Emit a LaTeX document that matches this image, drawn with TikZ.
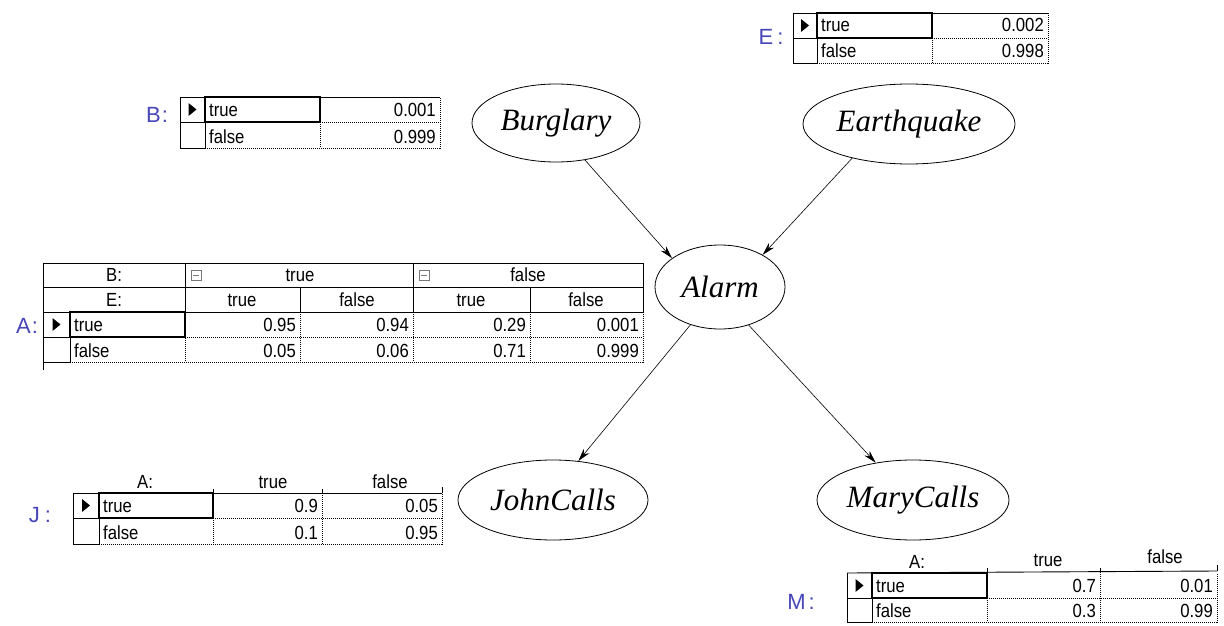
\documentclass[tikz,border=0pt]{standalone}
\usepackage{fontspec}
\setmainfont{Liberation Sans}
\newfontfamily\tabf[FakeStretch=0.88]{Liberation Sans}
\newfontfamily\elf{Liberation Serif}
\usetikzlibrary{shapes.geometric,arrows.meta}
\definecolor{pen}{RGB}{70,70,185}
\definecolor{minusgray}{RGB}{120,120,120}
\tikzset{
  var/.style={ellipse, draw, line width=0.8pt, minimum width=#1, minimum height=78pt, inner sep=0pt,
              font=\elf\itshape\fontsize{31}{36}\selectfont},
  edge/.style={-{Stealth[length=13pt,width=7pt]}, line width=0.6pt},
  tsolid/.style={line width=0.9pt},
  tdot/.style={line width=0.7pt, dash pattern=on 1pt off 1pt},
  tbox/.style={line width=1.6pt},
  ttext/.style={font=\tabf\fontsize{19}{22}\selectfont, inner sep=0pt},
  handlab/.style={text=pen, font=\fontsize{22}{24}\selectfont, inner sep=0pt},
  minusbox/.style={draw=minusgray, line width=0.6pt, minimum size=10pt, inner sep=0pt}
}
% #1 name, #2 x0, #3 x1, #4 x2, #5 xend, #6 y0, #7 y1, #8 y2
\newcommand\databody[8]{%
  \draw[tsolid] (#2,#6) -- (#2,#8) -- (#3,#8);
  \draw[tsolid] (#3,#6) -- (#3,#8);
  \draw[tsolid] (#2,#7) -- (#3,#7);
  \draw[tdot] (#4,#7) -- (#5,#7);
  \draw[tdot] (#3,#8) -- (#5,#8) -- (#5,#6);
  \draw[tbox] (#3,#6) rectangle (#4,#7);
  \fill ({(#2+#3)/2-4},{(#6+#7)/2-6.5}) -- ++(0,13) -- ++(8,-6.5) -- cycle;
  \node[ttext, anchor=base west] (#1lt) at ({#3+4},{#7-6}) {true};
  \node[ttext, anchor=base west] (#1lf) at ({#3+4},{#8-5}) {false};
}
\begin{document}
\begin{tikzpicture}[x=1pt,y=-1pt]
\useasboundingbox[fill=white] (0,0) rectangle (1224,626);

% ---------- network ----------
\node[var=168] (Burglary) at (556,123) {Burglary};
\node[var=212, minimum height=80pt] (Earthquake) at (909,124) {Earthquake};
\node[var=130, minimum height=84pt] (Alarm) at (720,287) {Alarm};
\node[var=190, minimum height=80pt] (JohnCalls) at (553,500) {JohnCalls};
\node[var=192, minimum height=80pt] (MaryCalls) at (913,500) {MaryCalls};

\draw[edge] (Burglary.-52) -- (Alarm.149);
\draw[edge] (Earthquake.-149) -- (Alarm.37);
\draw[edge] (Alarm.-128) -- (JohnCalls.57);
\draw[edge] (Alarm.-53) -- (MaryCalls.135);

% ---------- B table ----------
\node[handlab] (labB) at (157,115) {B\kern1pt:};
\draw[tsolid] (180,97) -- (440,97);
\databody{b}{180}{205}{320}{440}{97}{122}{148}
\draw[tdot] (320,122) -- (320,148);
\node[ttext, anchor=base east] (b1) at (436,116) {0.001};
\node[ttext, anchor=base east] (b2) at (436,143) {0.999};

% ---------- E table ----------
\node[handlab] (labE) at (771,37) {E\kern4pt:};
\draw[tsolid] (793,13) -- (1048,13);
\databody{e}{793}{817}{932}{1048}{13}{38}{63}
\draw[tdot] (932,38) -- (932,63);
\node[ttext, anchor=base east] (e1) at (1044,32) {0.002};
\node[ttext, anchor=base east] (e2) at (1044,58) {0.998};

% ---------- A table ----------
\node[handlab] (labA) at (27,326) {A\kern1pt:};
\draw[tsolid] (43,263) rectangle (643,312);
\draw[tsolid] (43,287) -- (643,287);
\draw[tsolid] (185,263) -- (185,312);
\draw[tsolid] (413,263) -- (413,312);
\draw[tsolid] (300,287) -- (300,312);
\draw[tsolid] (530,287) -- (530,312);
\draw[tsolid] (43,263) -- (643,263);
\node[ttext, anchor=base] (aB) at (114,281) {B:};
\node[ttext, anchor=base] (aE) at (114,306) {E:};
\node[minusbox] (am1) at (196,275) {};
\draw[minusgray, line width=0.6pt] ([xshift=2pt]am1.west) -- ([xshift=-2pt]am1.east);
\node[minusbox] (am2) at (424,275) {};
\draw[minusgray, line width=0.6pt] ([xshift=2pt]am2.west) -- ([xshift=-2pt]am2.east);
\node[ttext, anchor=base] (aBt) at (300,281) {true};
\node[ttext, anchor=base] (aBf) at (528,281) {false};
\node[ttext, anchor=base] (aE1) at (242,306) {true};
\node[ttext, anchor=base] (aE2) at (357,306) {false};
\node[ttext, anchor=base] (aE3) at (471,306) {true};
\node[ttext, anchor=base] (aE4) at (586,306) {false};
\databody{a}{43}{70}{185}{643}{312}{337}{362}
\draw[tsolid] (43,362) -- (43,370);
\foreach \xx in {185,300,413,530} \draw[tdot] (\xx,312) -- (\xx,362);
\draw[tdot] (185,337) -- (643,337);
\node[ttext, anchor=base east] (a11) at (296,331) {0.95};
\node[ttext, anchor=base east] (a12) at (409,331) {0.94};
\node[ttext, anchor=base east] (a13) at (526,331) {0.29};
\node[ttext, anchor=base east] (a14) at (639,331) {0.001};
\node[ttext, anchor=base east] (a21) at (296,357) {0.05};
\node[ttext, anchor=base east] (a22) at (409,357) {0.06};
\node[ttext, anchor=base east] (a23) at (526,357) {0.71};
\node[ttext, anchor=base east] (a24) at (639,357) {0.999};

% ---------- J table ----------
\node[handlab] (labJ) at (40,515) {J\kern5pt:};
\node[ttext, anchor=base] (jA) at (145,488) {A:};
\node[ttext, anchor=base] (jT) at (273,488) {true};
\node[ttext, anchor=base] (jF) at (390,488) {false};
\draw[tsolid] (73,493) -- (442,493);
\draw[tsolid] (213,493) -- (213,489) (322,493) -- (322,489) (442,493) -- (442,487);
\databody{j}{73}{99}{213}{442}{493}{518}{544}
\draw[tdot] (322,493) -- (322,544);
\draw[tdot] (213,518) -- (213,544);
\node[ttext, anchor=base east] (j11) at (318,512) {0.9};
\node[ttext, anchor=base east] (j12) at (438,512) {0.05};
\node[ttext, anchor=base east] (j21) at (318,539) {0.1};
\node[ttext, anchor=base east] (j22) at (438,539) {0.95};

% ---------- M table ----------
\node[handlab] (labM) at (801,602) {M\kern3pt:};
\node[ttext, anchor=base] (mA) at (917,568) {A:};
\node[ttext, anchor=base] (mT) at (1048,566) {true};
\node[ttext, anchor=base] (mF) at (1165,563) {false};
\draw[tsolid] (847,573) -- (1217,571);
\draw[tsolid] (987,572) -- (987,568) (1100,572) -- (1100,568) (1217,571) -- (1217,565);
\databody{m}{847}{872}{987}{1217}{573}{598}{622}
\draw[tdot] (1100,572) -- (1100,622);
\draw[tdot] (987,598) -- (987,622);
\node[ttext, anchor=base east] (m11) at (1096,592) {0.7};
\node[ttext, anchor=base east] (m12) at (1213,592) {0.01};
\node[ttext, anchor=base east] (m21) at (1096,617) {0.3};
\node[ttext, anchor=base east] (m22) at (1213,617) {0.99};
\end{tikzpicture}
\end{document}
